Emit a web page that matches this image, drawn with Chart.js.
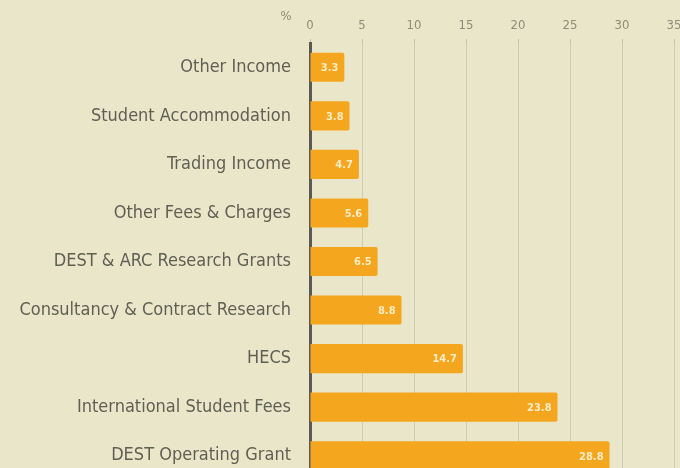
<!DOCTYPE html>
<html>
<head>
<meta charset="utf-8">
<script src="https://cdn.jsdelivr.net/npm/chart.js@4"></script>
<style>
  html, body { margin: 0; padding: 0; background: #e9e6c9; overflow: hidden; }
  #wrap { width: 680px; height: 480px; }
</style>
</head>
<body>
<div id="wrap"><canvas id="incomeChart" width="680" height="480"></canvas></div>
<script>
// --- Income sources, % of total ---
const categories = [
    'Other Income', 'Student Accommodation', 'Trading Income', 'Other Fees & Charges',
    'DEST & ARC Research Grants', 'Consultancy & Contract Research', 'HECS',
    'International Student Fees', 'DEST Operating Grant'
];
const shares = [3.3, 3.8, 4.7, 5.6, 6.5, 8.8, 14.7, 23.8, 28.8];
const tickValues = [0, 5, 10, 15, 20, 25, 30, 35];

const labelFont = '"DejaVu Sans Condensed", "Liberation Sans Narrow", sans-serif';

// value text inside the end of each bar, plus the "%" unit before the axis
const barValues = {
    id: 'barValues',
    afterDatasetsDraw(chart) {
        const ctx = chart.ctx;
        const meta = chart.getDatasetMeta(0);
        ctx.save();
        ctx.font = 'bold 11px ' + labelFont;
        ctx.fillStyle = '#fdecc4';
        ctx.textAlign = 'right';
        ctx.textBaseline = 'middle';
        meta.data.forEach((bar, i) => {
            ctx.fillText(shares[i].toFixed(1), bar.x - 6, bar.y + 1);
        });
        const xs = chart.scales.x;
        ctx.font = '13px ' + labelFont;
        ctx.fillStyle = '#8e8c7a';
        ctx.textAlign = 'center';
        ctx.fillText('%', xs.getPixelForValue(0) - 24, 17);
        ctx.restore();
    }
};

new Chart(document.getElementById('incomeChart').getContext('2d'), {
    type: 'bar',
    data: {
        labels: categories,
        datasets: [{
            data: shares,
            backgroundColor: '#f5a61f',
            borderRadius: 2,
            borderSkipped: 'left',
            categoryPercentage: 1,
            barPercentage: 0.6
        }]
    },
    options: {
        indexAxis: 'y',
        responsive: false,
        animation: false,
        layout: { padding: { left: 0, right: 6, top: 0, bottom: 0 } },
        plugins: { legend: { display: false }, tooltip: { enabled: false } },
        scales: {
            x: {
                position: 'top',
                min: 0,
                max: 35,
                afterBuildTicks: s => { s.ticks = tickValues.map(v => ({ value: v })); },
                afterFit: s => { s.height = 43; s.paddingLeft = 0; s.paddingRight = 0; },
                grid: { color: '#cfccb2', lineWidth: 1, drawTicks: true, tickLength: 4, tickColor: '#c2bfa6' },
                border: { display: false },
                ticks: { color: '#8e8c7a', font: { family: labelFont, size: 13 }, padding: 6 }
            },
            y: {
                afterFit: s => { s.width = 310; s.paddingTop = 0; s.paddingBottom = 0; },
                grid: { display: false },
                border: { color: '#5a5a52', width: 3 },
                ticks: { color: '#605f54', font: { family: labelFont, size: 18 }, padding: 11 }
            }
        }
    },
    plugins: [barValues]
});
</script>
</body>
</html>
